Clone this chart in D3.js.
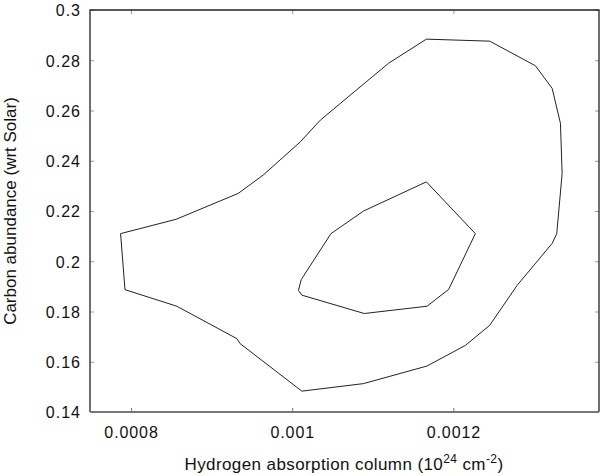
<!DOCTYPE html>
<html>
<head>
<meta charset="utf-8">
<script src="https://cdn.jsdelivr.net/npm/d3@7"></script>
<style>
  body { margin: 0; background: #fff; }
  svg { display: block; font-family: "Liberation Sans", Arial, sans-serif; }
</style>
</head>
<body>
<svg id="chart" width="600" height="475"></svg>
<script>
// outer contour (NH, carbon)
const outerX = [0.000787, 0.000856, 0.000933, 0.000964, 0.001010, 0.001035, 0.001072, 0.0011196, 0.0011665,
  0.0012451, 0.0013019, 0.0013226, 0.0013329, 0.0013350, 0.0013283, 0.0013226, 0.0012791, 0.0012451,
  0.0012149, 0.0011673, 0.0010886, 0.0010120, 0.0009354, 0.0009313, 0.0008568, 0.0007925];
const outerY = [0.2110, 0.2167, 0.2270, 0.2343, 0.2475, 0.2562, 0.2661, 0.2788, 0.2884,
  0.2876, 0.2778, 0.2688, 0.2549, 0.2349, 0.2110, 0.2071, 0.1904, 0.1745,
  0.1665, 0.1583, 0.1513, 0.1483, 0.1672, 0.1692, 0.1821, 0.1887];

// inner contour
const innerX = [0.0010481, 0.0010886, 0.0011665, 0.0012273, 0.0011942, 0.0011673, 0.0010894, 0.0010120, 0.0010078, 0.0010112];
const innerY = [0.2110, 0.2200, 0.2316, 0.2110, 0.1888, 0.1821, 0.1792, 0.1865, 0.1884, 0.1927];

const xTicks = [0.0008, 0.001, 0.0012];
const xTickLabels = ['0.0008', '0.001', '0.0012'];
const yTicks = [0.14, 0.16, 0.18, 0.2, 0.22, 0.24, 0.26, 0.28, 0.3];
const yTickLabels = ['0.14', '0.16', '0.18', '0.2', '0.22', '0.24', '0.26', '0.28', '0.3'];

const margin = { top: 10, right: 1, bottom: 63, left: 90 };
const width = 600 - margin.left - margin.right,
  height = 475 - margin.top - margin.bottom;

const x = d3.scaleLinear()
  .domain([0.0008 - 41 / 805000, 0.0012 + 145.5 / 805000])
  .range([0, width]);
const y = d3.scaleLinear()
  .domain([0.14, 0.3])
  .range([height, 0]);

const svg = d3.select('#chart')
  .append('g')
  .attr('transform', `translate(${margin.left},${margin.top})`);

// inward ticks on all four sides
const tickLen = 4;
svg.append('g')
  .attr('transform', `translate(0,${height})`)
  .call(d3.axisBottom(x).tickValues(xTicks).tickSizeInner(-tickLen).tickSizeOuter(0)
    .tickFormat((d, i) => xTickLabels[i]))
  .call(g => g.select('.domain').remove())
  .call(g => g.selectAll('.tick line').attr('stroke', '#777'))
  .call(g => g.selectAll('.tick text').attr('dy', 0).attr('y', 26)
    .attr('font-size', 16).attr('letter-spacing', 0.9).attr('fill', '#111').attr('font-family', null));

svg.append('g')
  .call(d3.axisTop(x).tickValues(xTicks).tickSizeInner(-tickLen).tickSizeOuter(0).tickFormat(''))
  .call(g => g.select('.domain').remove())
  .call(g => g.selectAll('.tick line').attr('stroke', '#999'));

svg.append('g')
  .call(d3.axisLeft(y).tickValues(yTicks).tickSizeInner(-tickLen).tickSizeOuter(0)
    .tickFormat((d, i) => yTickLabels[i]))
  .call(g => g.select('.domain').remove())
  .call(g => g.selectAll('.tick line').attr('stroke', '#999'))
  .call(g => g.selectAll('.tick text').attr('x', -9).attr('dy', '0.36em')
    .attr('font-size', 16).attr('letter-spacing', 1).attr('fill', '#111').attr('font-family', null));

svg.append('g')
  .attr('transform', `translate(${width},0)`)
  .call(d3.axisRight(y).tickValues(yTicks).tickSizeInner(-tickLen).tickSizeOuter(0).tickFormat(''))
  .call(g => g.select('.domain').remove())
  .call(g => g.selectAll('.tick line').attr('stroke', '#999'));

// frame
svg.append('path')
  .attr('d', `M0,${height}V0H${width}V${height}`)
  .attr('fill', 'none')
  .attr('stroke', '#222')
  .attr('stroke-width', 1.3);
svg.append('line')
  .attr('x1', 0).attr('x2', width)
  .attr('y1', height).attr('y2', height)
  .attr('stroke', '#777')
  .attr('stroke-width', 2);

// contours
const line = d3.line()
  .x(d => x(d[0]))
  .y(d => y(d[1]))
  .curve(d3.curveLinearClosed);

[[outerX, outerY], [innerX, innerY]].forEach(([xs, ys]) => {
  svg.append('path')
    .datum(xs.map((v, i) => [v, ys[i]]))
    .attr('d', line)
    .attr('fill', 'none')
    .attr('stroke', '#222')
    .attr('stroke-width', 1);
});

// axis titles
const xTitle = svg.append('text')
  .attr('x', 344 - margin.left)
  .attr('y', 470 - margin.top)
  .attr('text-anchor', 'middle')
  .attr('font-size', 17)
  .attr('letter-spacing', 0.4)
  .attr('fill', '#111')
  .text('Hydrogen absorption column (10');
xTitle.append('tspan').attr('dy', -7).attr('font-size', 12).text('24');
xTitle.append('tspan').attr('dy', 7).text(' cm');
xTitle.append('tspan').attr('dy', -7).attr('font-size', 12).text('-2');
xTitle.append('tspan').attr('dy', 7).text(')');

svg.append('text')
  .attr('transform', `translate(${16 - margin.left},${211 - margin.top}) rotate(-90)`)
  .attr('text-anchor', 'middle')
  .attr('font-size', 17)
  .attr('fill', '#111')
  .text('Carbon abundance (wrt Solar)');
</script>
</body>
</html>
